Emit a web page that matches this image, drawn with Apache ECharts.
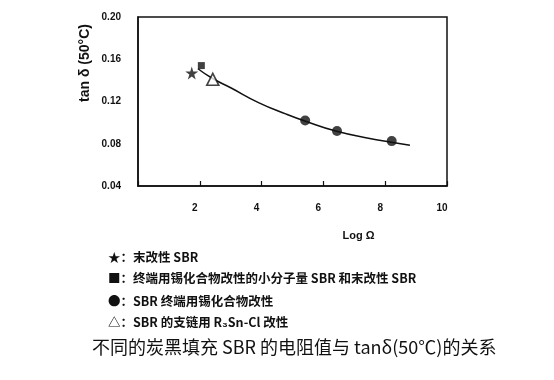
<!DOCTYPE html>
<html>
<head>
<meta charset="utf-8">
<script src="https://cdn.jsdelivr.net/npm/echarts@6/dist/echarts.min.js"></script>
<style>
html,body{margin:0;padding:0;background:#fff;}
#c{width:554px;height:380px;}
</style>
</head>
<body>
<div id="c"></div>
<script>
// Data
var xTicks = [0, 2, 4, 6, 8, 10];
var yTicks = [0.04, 0.08, 0.12, 0.16, 0.20];
var starPts = [[1.74, 0.147]];          // 末改性 SBR
var squarePts = [[2.05, 0.154]];        // 小分子量 SBR
var circlePts = [[5.41, 0.102], [6.44, 0.092], [8.21, 0.0825]];
var trianglePts = [[2.42, 0.141]];
var curveX = [1.94, 2.4, 3.0, 3.9, 4.8, 5.4, 6.4, 7.5, 8.2, 8.8];
var curveY = [0.151, 0.142, 0.133, 0.119, 0.108, 0.1015, 0.092, 0.085, 0.0815, 0.0785];
var xName = 'Log Ω';
var yName = 'tan δ (50°C)';
var legendLines = [
  '★：末改性 SBR',
  '■：终端用锡化合物改性的小分子量 SBR 和末改性 SBR',
  '●：SBR 终端用锡化合物改性',
  '△：SBR 的支链用 R₃Sn-Cl 改性'
];
var caption = '不同的炭黑填充 SBR 的电阻值与 tanδ(50℃)的关系';

var curve = curveX.map(function (x, i) { return [x, curveY[i]]; });
var starPath = 'path://M50,0 L61,35 L98,35 L68,57 L79,91 L50,70 L21,91 L32,57 L2,35 L39,35 Z';
var font = '"Liberation Sans", Arial, sans-serif';
var cjk = '"Noto Sans CJK SC", sans-serif';

var chart = echarts.init(document.getElementById('c'), null, {renderer: 'canvas'});
var legendY = [259, 280, 303, 324];
var graphics = legendLines.map(function (t, i) {
  return {
    type: 'text', left: 108, top: legendY[i] - 8,
    style: {text: t, font: 'bold 12.5px ' + cjk, fill: '#111'}
  };
});
graphics.push({
  type: 'text', left: 92, top: 338,
  style: {text: caption, font: 'normal 18px ' + cjk, fill: '#111'}
});
graphics.push({
  type: 'text', x: 85, y: 63, rotation: Math.PI / 2,
  style: {text: yName, font: 'bold 14px ' + font, fill: '#111', align: 'center', verticalAlign: 'middle'}
});

chart.setOption({
  animation: false,
  backgroundColor: '#fff',
  grid: {left: 138, right: 107, top: 17, bottom: 194, show: true, borderColor: '#111', borderWidth: 1.5},
  xAxis: {
    type: 'value', min: xTicks[0], max: xTicks[xTicks.length - 1], interval: 2,
    name: xName, nameLocation: 'middle', nameGap: 44,
    nameTextStyle: {fontFamily: font, fontWeight: 'bold', fontSize: 11, color: '#111', padding: [0, 0, 0, 132]},
    axisLine: {show: true, lineStyle: {color: '#111', width: 1.5}},
    axisTick: {show: true, inside: true, length: 5, lineStyle: {color: '#111', width: 1.2}},
    splitLine: {show: false},
    axisLabel: {
      margin: 17, fontFamily: font, fontWeight: 'bold', fontSize: 10, color: '#111', padding: [0, 10, 0, 0],
      formatter: function (v) { return v === 0 ? '' : String(v); }
    }
  },
  yAxis: {
    type: 'value', min: yTicks[0], max: yTicks[yTicks.length - 1], interval: 0.04,
    axisLine: {show: true, lineStyle: {color: '#111', width: 1.5}},
    axisTick: {show: false},
    splitLine: {show: false},
    axisLabel: {
      margin: 17, fontFamily: font, fontWeight: 'bold', fontSize: 10, color: '#111',
      formatter: function (v) { return v.toFixed(2); }
    }
  },
  graphic: graphics,
  series: [
    {type: 'line', data: curve, smooth: true, showSymbol: false, lineStyle: {color: '#111', width: 1.5}, z: 1},
    {type: 'scatter', data: starPts, symbol: starPath, symbolSize: 13, itemStyle: {color: '#111'}, z: 3},
    {type: 'scatter', data: squarePts, symbol: 'rect', symbolSize: 7, itemStyle: {color: '#111'}, z: 3},
    {type: 'scatter', data: circlePts, symbol: 'circle', symbolSize: 10, itemStyle: {color: '#111'}, z: 3},
    {type: 'scatter', data: trianglePts, symbol: 'triangle', symbolSize: 12,
      itemStyle: {color: '#fff', borderColor: '#111', borderWidth: 1.6}, z: 3}
  ]
});
</script>
</body>
</html>
